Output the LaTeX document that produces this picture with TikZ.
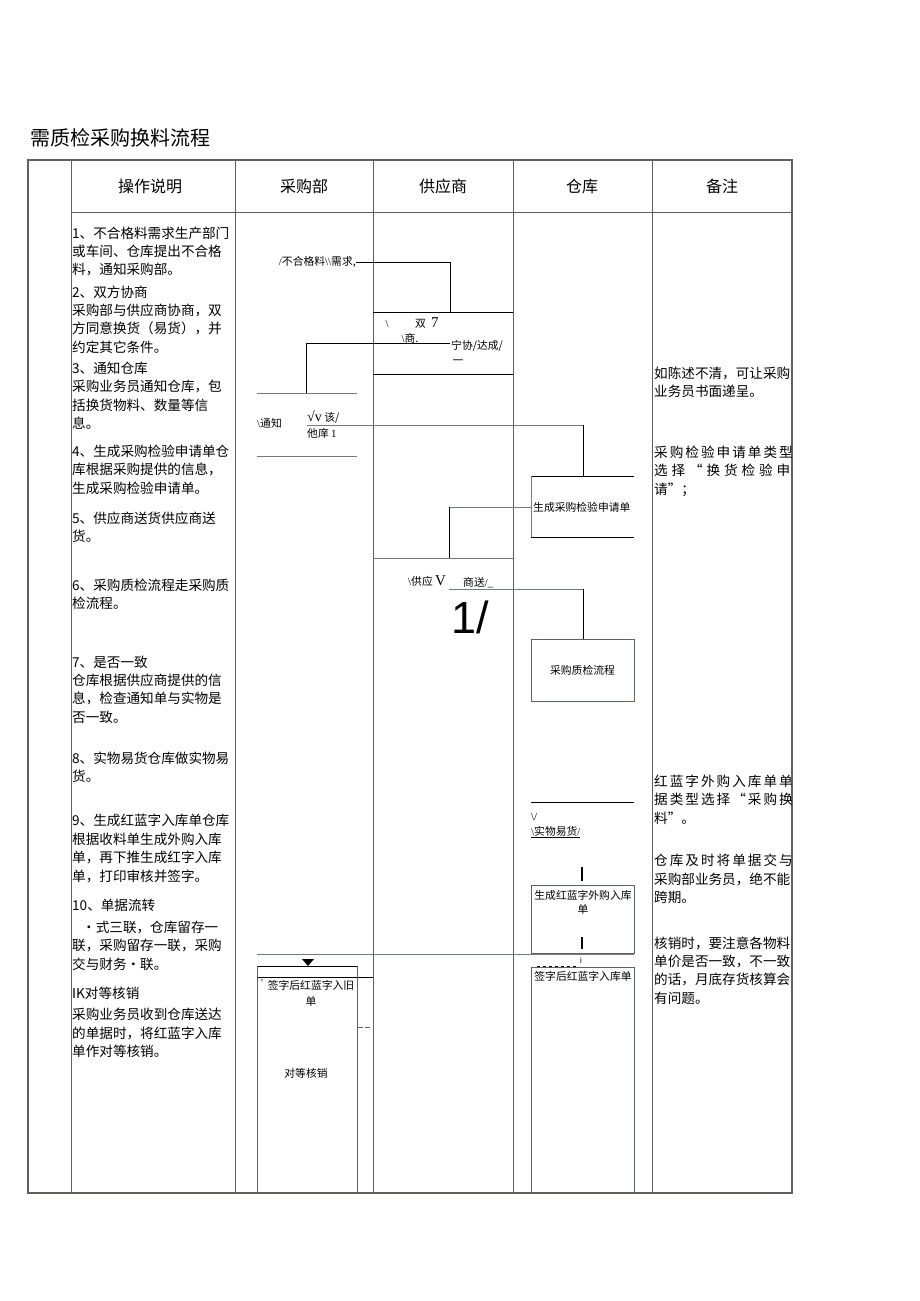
\documentclass[tikz,border=0pt]{standalone}
\usepackage{fontspec}
\setmainfont{Noto Sans CJK SC}
\newfontfamily\lser{Liberation Serif}
\newfontfamily\lsans{Liberation Sans}
\definecolor{tgrey}{RGB}{90,100,90}
\definecolor{fgrey}{RGB}{115,125,115}
\begin{document}
\begin{tikzpicture}[x=1pt,y=-1pt,
  tab/.style={draw=tgrey,line width=0.9pt},
  flow/.style={draw=black,line width=0.7pt},
  soft/.style={draw=fgrey,line width=0.8pt},
  thickbar/.style={draw=black,line width=2pt},
  body/.style={anchor=west,inner sep=0pt,align=left,font=\fontsize{13.6}{18.4}\selectfont},
  hdr/.style={inner sep=0pt,font=\fontsize{16}{18}\selectfont},
  lbl/.style={inner sep=0pt,font=\fontsize{10.8}{14}\selectfont}]
\useasboundingbox (0,0) rectangle (920,1301);

% title
\node[anchor=west,inner sep=0pt,font=\fontsize{20}{24}\selectfont] (title) at (30,138) {需质检采购换料流程};

% table
\draw[tab,line width=1.2pt] (28,160) rectangle (792,1193);
\draw[tab] (71,212) -- (792,212);
\foreach \x in {71,235,373,513,652} \draw[tab] (\x,160) -- (\x,1193);

% headers
\node[hdr] (h1) at (150,186) {操作说明};
\node[hdr] (h2) at (304,186) {采购部};
\node[hdr] (h3) at (443,186) {供应商};
\node[hdr] (h4) at (582,186) {仓库};
\node[hdr] (h5) at (722,186) {备注};

% operation description column
\node[body] (d1) at (72,251.5) {1、不合格料需求生产部门\\或车间、仓库提出不合格\\料，通知采购部。};
\node[body] (d2) at (72,319.5) {2、双方协商\\采购部与供应商协商，双\\方同意换货（易货），并\\约定其它条件。};
\node[body] (d3) at (72,395.5) {3、通知仓库\\采购业务员通知仓库，包\\括换货物料、数量等信\\息。};
\node[body] (d4) at (72,469.5) {4、生成采购检验申请单仓\\库根据采购提供的信息，\\生成采购检验申请单。};
\node[body] (d5) at (72,527.5) {5、供应商送货供应商送\\货。};
\node[body] (d6) at (72,594.5) {6、采购质检流程走采购质\\检流程。};
\node[body] (d7) at (72,689.5) {7、是否一致\\仓库根据供应商提供的信\\息，检查通知单与实物是\\否一致。};
\node[body] (d8) at (72,767) {8、实物易货仓库做实物易\\货。};
\node[body] (d9) at (72,848.5) {9、生成红蓝字入库单仓库\\根据收料单生成外购入库\\单，再下推生成红字入库\\单，打印审核并签字。};
\node[body] (d10) at (72,905) {10、单据流转};
\node[body] (d10b) at (72,945.5) {\hspace*{10pt}•式三联，仓库留存一\\联，采购留存一联，采购\\交与财务•联。};
\node[body] (d11) at (72,993) {IK对等核销};
\node[body] (d11b) at (72,1033) {采购业务员收到仓库送达\\的单据时，将红蓝字入库\\单作对等核销。};

% remarks column
\node[body] (r1) at (654,382) {如陈述不清，可让采购\\业务员书面递呈。};
\node[body] (r2) at (654,471) {\makebox[136pt][s]{采 购 检 验 申 请 单 类 型}\\\makebox[136pt][s]{选 择 “ 换 货 检 验 申}\\请”；};
\node[body] (r3) at (654,799.5) {\makebox[136pt][s]{红 蓝 字 外 购 入 库 单 单}\\\makebox[136pt][s]{据 类 型 选 择 “ 采 购 换}\\料”。};
\node[body] (r4) at (654,879) {\makebox[136pt][s]{仓 库 及 时 将 单 据 交 与}\\采购部业务员，绝不能\\跨期。};
\node[body] (r5) at (654,970.5) {核销时，要注意各物料\\单价是否一致，不一致\\的话，月底存货核算会\\有问题。};

% ---- flow: need -> negotiation
\node[lbl,anchor=east] (need) at (356,262) {{\lser /}不合格料{\lser\textbackslash\textbackslash}需求,};
\coordinate (c1) at (450,262);
\coordinate (s1top) at (450,312);
\draw[flow] (need.east) -- (c1) -- (s1top);

% supplier box 1
\draw[flow] (373,312) -- (513,312);
\draw[flow] (373,374) -- (513,374);
\node[lbl] (s1a) at (387,324) {\lser\textbackslash};
\node[lbl,anchor=west] (s1b) at (415,323) {双\hspace{5pt}{\lser\fontsize{15}{15}\selectfont 7}};
\node[lbl] (s1c) at (410,338) {{\lser\textbackslash}商.};
\node[lbl,anchor=west] (s1d) at (451,346) {宁协/达成/};
\node[lbl] (s1e) at (458,362) {一};

% negotiation -> notify
\coordinate (c2) at (450,343);
\coordinate (c3) at (306,343);
\coordinate (c4) at (306,393);
\draw[flow] (c2) -- (c3) -- (c4);

% notify block in purchasing
\draw[soft] (257,393) -- (357,393);
\draw[soft] (257,456) -- (357,456);
\node[lbl,anchor=west] (n1) at (257,423) {{\lser\textbackslash}通知};
\node[lbl,anchor=west] (n2) at (307,417) {{\lser\fontsize{14}{14}\selectfont √v} 该/};
\node[lbl,anchor=west] (n3) at (307,433) {他庠 {\lser 1}};

% notify -> inspection request
\coordinate (c5) at (307,425);
\coordinate (c6) at (583,425);
\coordinate (w1top) at (583,476);
\draw[soft] (c5) -- (c6);
\draw[flow] (c6) -- (w1top);

% warehouse box 1 (open on the right)
\draw[flow] (634,476) -- (531,476);
\draw[soft] (531,476) -- (531,537);
\draw[flow] (531,537) -- (634,537);
\node[lbl,anchor=west] (w1t) at (533,507) {生成采购检验申请单};

% request -> supplier delivery
\coordinate (c7) at (531,507);
\coordinate (c8) at (449,507);
\coordinate (s2top) at (449,558);
\draw[soft] (c7) -- (c8);
\draw[flow] (c8) -- (s2top);
\draw[soft] (373,558) -- (513,558);
\node[lbl,anchor=west] (s2a) at (408,581) {{\lser\textbackslash}供应 {\lser\fontsize{15}{15}\selectfont V}};
\node[lbl,anchor=west] (s2b) at (463,583) {商送{\lser /\_}};
\node[inner sep=0pt,font=\lsans\fontsize{45}{45}\selectfont] (one) at (470,617) {1/};

% delivery -> QC
\coordinate (c9) at (449,589);
\coordinate (c10) at (583,589);
\draw[soft] (c9) -- (c10);
\draw[flow] (c10) -- (583,639);
\node[draw=tgrey,line width=0.8pt,minimum width=103pt,minimum height=62pt,inner sep=0pt,font=\fontsize{10.8}{14}\selectfont] (w2) at (582.5,670) {采购质检流程};

% exchange
\draw[flow] (531,802) -- (634,802);
\node[lbl,anchor=west] (v1) at (531,817) {\lser\textbackslash/};
\node[lbl,anchor=west] (v2) at (531,832) {\underline{{\lser\textbackslash}实物易货{\lser /}}};
\coordinate (b1a) at (582,867);
\coordinate (b1b) at (582,881);
\draw[thickbar] (b1a) -- (b1b);
\node[draw=tgrey,line width=0.8pt,minimum width=103pt,minimum height=68pt,inner sep=0pt] (w3) at (582.5,919) {};
\node[lbl,align=center,font=\fontsize{10.8}{14}\selectfont] (w3t) at (583,902) {生成红蓝字外购入库\\单};
\coordinate (b2a) at (582,937);
\coordinate (b2b) at (582,949);
\draw[thickbar] (b2a) -- (b2b);
\draw[soft] (257,954) -- (634,954);
\node[inner sep=0pt,font=\fontsize{8}{8}\selectfont] (ii) at (581,960) {i};
\draw[flow,dashed] (537,966) -- (578,966);

% warehouse box 4
\draw[tab] (531,1193) -- (531,967) -- (634,967) -- (634,1193);
\node[lbl] (w4t) at (583,976) {签字后红蓝字入库单};

% purchasing bottom box
\fill[black] (302,959) -- (314,959) -- (308,966) -- cycle;
\draw[flow] (257,966) -- (357,966);
\draw[flow] (257,977) -- (373,977);
\draw[tab] (257,966) -- (257,1193);
\draw[tab] (357,966) -- (357,1193);
\node[lbl] (p0) at (262,983) {\lser '};
\node[lbl,align=center,font=\fontsize{10.8}{16}\selectfont] (p1) at (311,993) {签字后红蓝字入旧\\单};
\node[lbl] (p2) at (306,1073) {对等核销};
\draw[tab,dashed,dash pattern=on 5pt off 2pt] (358,1027) -- (371,1027);
\end{tikzpicture}
\end{document}
